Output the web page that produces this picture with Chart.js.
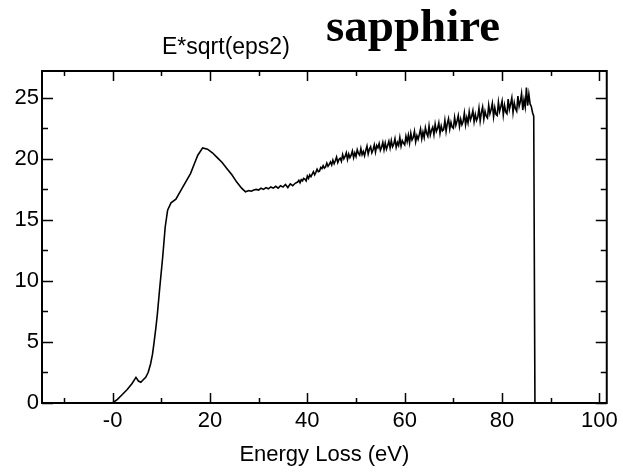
<!DOCTYPE html>
<html>
<head>
<meta charset="utf-8">
<title>sapphire</title>
<script src="https://cdn.jsdelivr.net/npm/chart.js@4.4.0/dist/chart.umd.min.js"></script>
<style>
  html, body { margin: 0; padding: 0; background: #fff; }
  #wrap { position: relative; width: 623px; height: 476px; }
</style>
</head>
<body>
<div id="wrap"><canvas id="eelsChart"></canvas></div>
<script>
// energy loss (eV) and E*sqrt(eps2)
const energy = [
  0, 1, 2, 3, 4, 4.8, 5.3, 5.8, 6.3, 6.8, 7.3, 7.8, 8.2, 8.5, 8.9, 9.2, 9.7,
  10.3, 10.8, 11.3, 12, 13, 14, 15, 16, 17, 17.5, 18.5, 19.5, 20.5, 21.5,
  22.5, 23.5, 24.5, 25.5, 26.5, 27.3, 28, 28.5, 29, 29.5,
  30, 30.5, 31, 31.5, 32, 32.5, 33, 33.5, 34, 34.5, 35, 35.5, 36, 36.5, 37, 37.5,
  38, 38.25, 38.5, 38.75, 39, 39.25, 39.5, 39.75, 40, 40.25, 40.5, 40.75,
  41, 41.25, 41.5, 41.75, 42, 42.25, 42.5, 42.75, 43, 43.25, 43.5, 43.75,
  44, 44.25, 44.5, 44.75, 45, 45.25, 45.5, 45.75, 46, 46.25, 46.5, 46.75,
  47, 47.25, 47.5, 47.75, 48, 48.25, 48.5, 48.75, 49, 49.25, 49.5, 49.75,
  50, 50.25, 50.5, 50.75, 51, 51.25, 51.5, 51.75, 52, 52.25, 52.5, 52.75,
  53, 53.25, 53.5, 53.75, 54, 54.25, 54.5, 54.75, 55, 55.25, 55.5, 55.75,
  56, 56.25, 56.5, 56.75, 57, 57.25, 57.5, 57.75, 58, 58.25, 58.5, 58.75,
  59, 59.25, 59.5, 59.75, 60, 60.25, 60.5, 60.75, 61, 61.25, 61.5, 61.75,
  62, 62.25, 62.5, 62.75, 63, 63.25, 63.5, 63.75, 64, 64.25, 64.5, 64.75,
  65, 65.25, 65.5, 65.75, 66, 66.25, 66.5, 66.75, 67, 67.25, 67.5, 67.75,
  68, 68.25, 68.5, 68.75, 69, 69.25, 69.5, 69.75, 70, 70.25, 70.5, 70.75,
  71, 71.25, 71.5, 71.75, 72, 72.25, 72.5, 72.75, 73, 73.25, 73.5, 73.75,
  74, 74.25, 74.5, 74.75, 75, 75.25, 75.5, 75.75, 76, 76.25, 76.5, 76.75,
  77, 77.25, 77.5, 77.75, 78, 78.25, 78.5, 78.75, 79, 79.25, 79.5, 79.75,
  80, 80.25, 80.5, 80.75, 81, 81.25, 81.5, 81.75, 82, 82.25, 82.5, 82.75,
  83, 83.25, 83.5, 83.75, 84, 84.25, 84.5, 84.75, 85, 85.25, 85.5, 85.75,
  86, 86.25, 86.5, 86.75
];
const signal = [
  0, 0.3, 0.7, 1.1, 1.6, 2.1, 1.8, 1.7, 1.9, 2.1, 2.5, 3.2, 4.0, 4.9, 6.2, 7.3, 9.5,
  12.0, 14.4, 15.8, 16.4, 16.7, 17.4, 18.1, 18.8, 19.8, 20.3, 20.9, 20.8, 20.5, 20.1,
  19.7, 19.2, 18.7, 18.1, 17.6, 17.3, 17.4, 17.35, 17.45, 17.5,
  17.45, 17.6, 17.5, 17.65, 17.55, 17.7, 17.6, 17.75, 17.6, 17.8, 17.7, 17.9, 17.65, 17.95, 17.8, 18.0,
  18.1, 18.25, 18.05, 18.3, 18.2, 18.4, 18.35, 18.2, 18.6, 18.4, 18.7, 18.55,
  18.75, 18.95, 18.7, 18.9, 19.15, 18.95, 19.0, 19.3, 19.2, 19.45, 19.25, 19.35,
  19.65, 19.4, 19.55, 19.75, 19.5, 19.9, 19.6, 19.85, 20.15, 19.7, 19.95, 20.05,
  19.8, 20.35, 20.0, 20.2, 20.5, 19.95, 20.4, 20.1, 20.3, 20.65, 20.1, 20.5,
  20.2, 20.75, 20.45, 20.3, 20.85, 20.35, 20.6, 20.25, 20.7, 21.05, 20.4, 20.8,
  21.0, 20.5, 20.75, 21.15, 20.55, 21.1, 20.9, 21.25, 20.7, 20.95, 21.35, 20.75,
  21.3, 20.8, 21.1, 21.45, 20.9, 21.5, 21.0, 21.2, 21.65, 20.95, 21.35, 21.1,
  21.75, 21.05, 21.5, 21.3, 21.15, 21.85, 21.4, 21.95, 21.3, 22.1, 21.55, 21.75,
  22.25, 21.4, 21.9, 21.6, 22.0, 22.45, 21.65, 22.2, 21.75, 22.55, 22.1, 21.85,
  22.7, 21.95, 22.35, 22.6, 22.0, 22.85, 22.25, 22.5, 22.95, 22.1, 22.7, 22.3,
  22.4, 23.15, 22.25, 22.9, 23.3, 22.45, 23.0, 22.6, 22.5, 23.4, 22.75, 23.1,
  23.55, 22.65, 23.25, 22.8, 23.05, 23.75, 22.8, 23.4, 22.95, 23.85, 23.2, 23.5,
  23.95, 23.05, 23.65, 23.15, 23.4, 24.15, 23.1, 23.8, 24.25, 23.25, 23.9, 23.5,
  23.35, 24.4, 23.7, 24.05, 24.55, 23.45, 24.2, 23.65, 23.55, 24.65, 23.9, 24.3,
  24.75, 23.6, 24.4, 23.85, 23.7, 24.9, 24.05, 24.5, 25.0, 23.8, 24.6, 24.1,
  23.9, 25.15, 24.3, 24.7, 25.35, 24.0, 24.85, 24.25, 25.85, 24.35, 25.3, 24.5,
  24.3, 23.8, 23.5, 0
];

const xMajorTicks = [0, 20, 40, 60, 80, 100];
const xMinorTicks = [-10, 10, 30, 50, 70, 90];
const yMajorTicks = [0, 5, 10, 15, 20, 25];
const yMinorTicks = [2.5, 7.5, 12.5, 17.5, 22.5];

const points = energy.map((e, i) => ({ x: e, y: signal[i] }));

// frame, inward ticks on all four sides, and the two top labels
const framePlugin = {
  id: 'frame',
  afterDraw(chart) {
    const ctx = chart.ctx;
    const a = chart.chartArea;
    const xs = chart.scales.x;
    const ys = chart.scales.y;
    ctx.save();
    ctx.strokeStyle = '#000';
    ctx.lineWidth = 2;
    ctx.strokeRect(a.left, a.top, a.right - a.left, a.bottom - a.top);

    ctx.lineWidth = 1.5;
    ctx.beginPath();
    const xTick = (v, len) => {
      const px = Math.round(xs.getPixelForValue(v)) + 0.5;
      ctx.moveTo(px, a.bottom); ctx.lineTo(px, a.bottom - len);
      ctx.moveTo(px, a.top); ctx.lineTo(px, a.top + len);
    };
    const yTick = (v, len) => {
      const py = Math.round(ys.getPixelForValue(v)) + 0.5;
      ctx.moveTo(a.left, py); ctx.lineTo(a.left + len, py);
      ctx.moveTo(a.right, py); ctx.lineTo(a.right - len, py);
    };
    xMajorTicks.forEach(v => xTick(v, 10));
    xMinorTicks.forEach(v => xTick(v, 5));
    yMajorTicks.forEach(v => yTick(v, 11));
    yMinorTicks.forEach(v => yTick(v, 6));
    ctx.stroke();

    ctx.fillStyle = '#000';
    ctx.textBaseline = 'alphabetic';
    ctx.textAlign = 'left';
    ctx.font = '23px "Liberation Sans", Arial, sans-serif';
    ctx.fillText('E*sqrt(eps2)', 162, 54);
    ctx.font = 'bold 47px "Liberation Serif", "Times New Roman", serif';
    ctx.fillText('sapphire', 326, 41);
    ctx.restore();
  }
};

new Chart(document.getElementById('eelsChart').getContext('2d'), {
  type: 'scatter',
  data: {
    datasets: [
      {
        label: 'E*sqrt(eps2)',
        data: points,
        showLine: true,
        borderColor: '#000',
        borderWidth: 1.6,
        pointRadius: 0,
        tension: 0,
      },
    ],
  },
  options: {
    responsive: true,
    maintainAspectRatio: false,
    animation: false,
    devicePixelRatio: 1,
    layout: { padding: { top: 71, right: 15, left: 0, bottom: 0 } },
    plugins: {
      legend: { display: false },
      tooltip: { enabled: false },
    },
    scales: {
      x: {
        type: 'linear',
        min: -14.5,
        max: 101.5,
        afterBuildTicks: (s) => { s.ticks = xMajorTicks.map((v) => ({ value: v })); },
        afterFit: (s) => { s.height = 73; },
        grid: { display: false, drawTicks: false },
        border: { display: false },
        ticks: {
          padding: 5,
          color: '#000',
          font: { family: '"Liberation Sans", Arial, sans-serif', size: 22 },
          maxRotation: 0,
          callback: (v) => (v === 0 ? '-0' : String(v)),
        },
        title: {
          display: true,
          text: 'Energy Loss (eV)',
          color: '#000',
          font: { family: '"Liberation Sans", Arial, sans-serif', size: 22 },
          padding: { top: 4, bottom: 8 },
        },
      },
      y: {
        type: 'linear',
        min: 0,
        max: 27.2,
        afterBuildTicks: (s) => { s.ticks = yMajorTicks.map((v) => ({ value: v })); },
        afterFit: (s) => { s.width = 42; },
        grid: { display: false, drawTicks: false },
        border: { display: false },
        ticks: {
          padding: 3,
          color: '#000',
          font: { family: '"Liberation Sans", Arial, sans-serif', size: 22 },
        },
      },
    },
  },
  plugins: [framePlugin],
});
</script>
</body>
</html>
